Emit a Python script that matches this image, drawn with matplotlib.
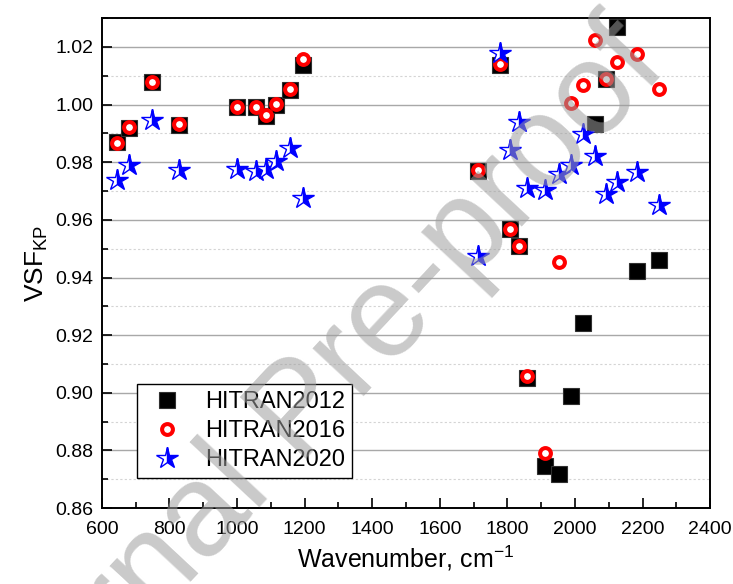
import matplotlib.pyplot as plt
from matplotlib.ticker import MultipleLocator

plt.rcParams['font.family'] = ['Liberation Sans', 'DejaVu Sans']
plt.rcParams['mathtext.default'] = 'regular'

# band centres, cm-1 (shared by all three line lists)
wavenumber = [645, 681, 747, 828, 999, 1055, 1087, 1116, 1156, 1195,
              1712, 1777, 1808, 1833, 1859, 1910, 1953, 1988, 2024, 2058,
              2091, 2123, 2184, 2248]

vsf_2012 = [0.987, 0.992, 1.008, 0.993, 0.999, 0.999, 0.996, 1.000, 1.005, 1.0138,
            0.977, 1.0137, 0.957, 0.951, 0.905, 0.8745, 0.8718, 0.8988, 0.9243, 0.9932,
            1.0088, 1.027, 0.9423, 0.9459]

vsf_2016 = [0.9868, 0.9921, 1.0078, 0.9932, 0.9992, 0.9990, 0.9963, 1.0003, 1.0055, 1.0158,
            0.9772, 1.0140, 0.9568, 0.9510, 0.9057, 0.8790, 0.9453, 1.0005, 1.0068, 1.0225,
            1.0090, 1.0148, 1.0176, 1.0055]

vsf_2020 = [0.9738, 0.9790, 0.9945, 0.9772, 0.9775, 0.9770, 0.9775, 0.9805, 0.9848, 0.9675,
            0.9473, 1.0180, 0.9843, 0.9938, 0.9710, 0.9702, 0.9760, 0.9790, 0.9898, 0.9823,
            0.9690, 0.9733, 0.9766, 0.9650]

labels = ['HITRAN2012', 'HITRAN2016', 'HITRAN2020']

fig = plt.figure(figsize=(7.33, 5.84), dpi=100)
ax = fig.add_axes([0.139, 0.130, 0.830, 0.839])

ax.plot(wavenumber, vsf_2012, ls='none', marker='s', ms=11.5, color='black',
        mec='#303030', mew=0.8, label=labels[0], zorder=3)
ax.plot(wavenumber, vsf_2016, ls='none', marker='o', ms=7.8, mfc='white',
        mec='red', mew=2.9, label=labels[1], zorder=4)
ax.plot(wavenumber, vsf_2020, ls='none', marker='*', ms=16, fillstyle='right',
        mfc='blue', mfcalt='white', mec='blue', mew=1.0, label=labels[2], zorder=5)

ax.set_xlim(600, 2400)
ax.set_ylim(0.86, 1.03)
ax.xaxis.set_major_locator(MultipleLocator(200))
ax.xaxis.set_minor_locator(MultipleLocator(100))
ax.yaxis.set_major_locator(MultipleLocator(0.02))
ax.yaxis.set_minor_locator(MultipleLocator(0.01))
ax.yaxis.set_major_formatter(plt.FormatStrFormatter('%.2f'))

ax.tick_params(which='both', direction='in', top=False, right=False, labelsize=14, width=1.2)
ax.tick_params(which='major', length=7.5)
ax.tick_params(which='minor', length=4)
ax.tick_params(axis='x', which='major', pad=9)
ax.tick_params(axis='y', which='major', pad=6)
for sp in ax.spines.values():
    sp.set_linewidth(1.4)

ax.grid(axis='y', which='major', color='#a8a8a8', lw=1.0, zorder=0)
ax.grid(axis='y', which='minor', color='#d4d4d4', lw=0.8, ls=(0, (2, 2)), zorder=0)
ax.set_axisbelow(True)

ax.set_xlabel('Wavenumber, cm$^{-1}$', fontsize=18, labelpad=4)
ax.set_ylabel('VSF$_{KP}$', fontsize=19)

leg = ax.legend(loc='lower left', bbox_to_anchor=(0.057, 0.061), borderaxespad=0,
                fontsize=17, fancybox=False, framealpha=1, edgecolor='black',
                handletextpad=0.6, labelspacing=0.3, borderpad=0.3, handlelength=2.0)
leg.get_frame().set_linewidth(1.0)

# diagonal watermark across the figure
fig.text(0.445, 0.252, 'Journal Pre-proof', fontsize=94, color='#9e9e9e', alpha=0.55,
         rotation=47, rotation_mode='anchor', ha='center', va='baseline', zorder=10)

fig.savefig('out.png', dpi=100)
